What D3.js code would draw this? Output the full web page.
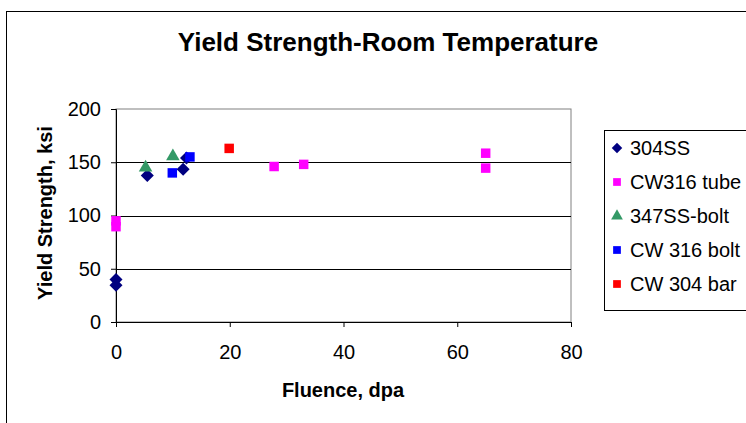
<!DOCTYPE html>
<html>
<head>
<meta charset="utf-8">
<script src="https://cdn.jsdelivr.net/npm/d3@7"></script>
<style>
  body { margin: 0; background: #fff; }
  svg { display: block; font-family: "Liberation Sans", Arial, sans-serif; }
</style>
</head>
<body>
<svg width="746" height="423"></svg>
<script>
// series names, in legend order
const seriesNames = ["304SS", "CW316 tube", "347SS-bolt", "CW 316 bolt", "CW 304 bar"];

// [fluence dpa, yield strength ksi]
const ss304 = [[0, 40], [0, 34.5], [5.5, 137.5], [11.8, 143.5], [12.4, 154]];
const cw316tube = [[0, 95], [0, 89.5], [27.8, 146], [33, 148], [65, 158.5], [65, 144.5]];
const ss347bolt = [[5.2, 145], [10, 155.5]];
const cw316bolt = [[9.9, 140], [13, 155]];
const cw304bar = [[19.9, 163]];

const xTicks = [0, 20, 40, 60, 80];
const yTicks = [0, 50, 100, 150, 200];

const colors = ["#000080", "#ff00ff", "#339966", "#0000ff", "#ff0000"];
const allData = [ss304, cw316tube, ss347bolt, cw316bolt, cw304bar];

// Excel style diamond: square turned 45 degrees
const diamond = {
  draw(ctx, size) {
    const r = Math.sqrt(size / 2);
    ctx.moveTo(0, -r); ctx.lineTo(r, 0); ctx.lineTo(0, r); ctx.lineTo(-r, 0); ctx.closePath();
  }
};
const shapes = [diamond, d3.symbolSquare, d3.symbolTriangle, d3.symbolSquare, d3.symbolSquare];

const svg = d3.select("svg");

// outer chart border (runs off the right and bottom)
svg.append("rect")
  .attr("x", 6.5).attr("y", 11.5)
  .attr("width", 760).attr("height", 430)
  .attr("fill", "none").attr("stroke", "#000").attr("stroke-width", 1);

const x = d3.scaleLinear().domain([0, 80]).range([116, 571]);
const y = d3.scaleLinear().domain([0, 200]).range([322, 109]);

// plot area border
svg.append("rect")
  .attr("x", x(0)).attr("y", y(200))
  .attr("width", x(80) - x(0)).attr("height", y(0) - y(200))
  .attr("fill", "none").attr("stroke", "#808080");

// gridlines
svg.selectAll("line.grid")
  .data(yTicks.filter(d => d > 0 && d < 200))
  .enter()
  .append("line")
  .attr("class", "grid")
  .attr("x1", x(0)).attr("x2", x(80))
  .attr("y1", d => Math.round(y(d)) + 0.5).attr("y2", d => Math.round(y(d)) + 0.5)
  .attr("stroke", "#000");

const xAxis = svg.append("g")
  .attr("transform", `translate(0,${y(0)})`)
  .call(d3.axisBottom(x).tickValues(xTicks).tickSizeOuter(0).tickSize(5).tickPadding(18));

const yAxis = svg.append("g")
  .attr("transform", `translate(${x(0)},0)`)
  .call(d3.axisLeft(y).tickValues(yTicks).tickSizeOuter(0).tickSize(5).tickPadding(10));

[xAxis, yAxis].forEach(g => {
  g.select(".domain").attr("stroke", "#000");
  g.selectAll(".tick line").attr("stroke", "#000");
  g.selectAll("text")
    .attr("font-family", "Liberation Sans, Arial, sans-serif")
    .attr("font-size", 20).attr("fill", "#000");
});

// points
allData.forEach((pts, i) => {
  const size = shapes[i] === d3.symbolSquare ? 90 : (shapes[i] === d3.symbolTriangle ? 80 : 85);
  svg.append("g").selectAll("path")
    .data(pts)
    .enter()
    .append("path")
    .attr("d", d3.symbol().type(shapes[i]).size(size))
    .attr("transform", d => `translate(${x(d[0])},${y(d[1])})`)
    .attr("fill", colors[i]);
});

// title
svg.append("text")
  .attr("x", 388).attr("y", 51)
  .attr("text-anchor", "middle")
  .attr("font-size", 26).attr("font-weight", "bold")
  .text("Yield Strength-Room Temperature");

// axis titles
svg.append("text")
  .attr("x", 343).attr("y", 397)
  .attr("text-anchor", "middle")
  .attr("font-size", 20).attr("font-weight", "bold")
  .text("Fluence, dpa");

svg.append("text")
  .attr("transform", "translate(52,213) rotate(-90)")
  .attr("text-anchor", "middle")
  .attr("font-size", 20).attr("font-weight", "bold")
  .text("Yield Strength, ksi");

// legend
svg.append("rect")
  .attr("x", 604.5).attr("y", 130.5)
  .attr("width", 160).attr("height", 180)
  .attr("fill", "#fff").attr("stroke", "#000");

const legend = svg.append("g").selectAll("g")
  .data(seriesNames)
  .enter()
  .append("g")
  .attr("transform", (d, i) => `translate(617,${148 + i * 34})`);

legend.append("path")
  .attr("d", (d, i) => d3.symbol().type(shapes[i]).size(shapes[i] === diamond ? 55 : 60)())
  .attr("fill", (d, i) => colors[i]);

legend.append("text")
  .attr("x", 13).attr("dy", "0.36em")
  .attr("font-size", 20)
  .text(d => d);
</script>
</body>
</html>
